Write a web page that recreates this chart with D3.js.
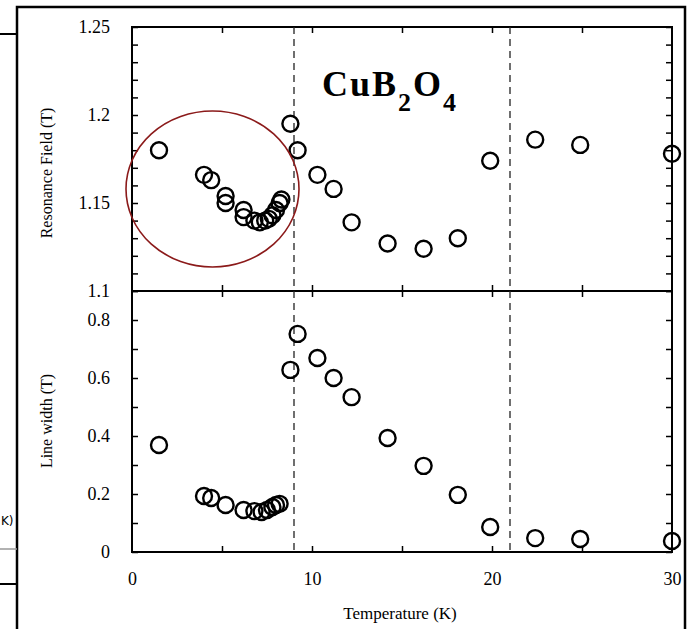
<!DOCTYPE html>
<html>
<head>
<meta charset="utf-8">
<script src="https://cdn.jsdelivr.net/npm/d3@7"></script>
<style>
  body { margin: 0; background: #fff; }
  svg { display: block; font-family: "Liberation Serif", "Times New Roman", serif; }
</style>
</head>
<body>
<svg id="chart"></svg>
<script>
const width = 690;
const height = 629;

// resonance field panel
const tField = [1.5, 4.0, 4.4, 5.2, 5.2, 6.2, 6.2, 6.8, 7.1, 7.4, 7.6, 7.8, 8.0, 8.2, 8.3,
  8.8, 9.2, 10.3, 11.2, 12.2, 14.2, 16.2, 18.1, 19.9, 22.4, 24.9, 30.0];
const field = [1.180, 1.166, 1.163, 1.154, 1.150, 1.146, 1.142, 1.140, 1.139, 1.140, 1.141, 1.143, 1.146, 1.150, 1.152,
  1.195, 1.180, 1.166, 1.158, 1.139, 1.127, 1.124, 1.130, 1.174, 1.186, 1.183, 1.178];

// line width panel
const tWidth = [1.5, 4.0, 4.4, 5.2, 6.2, 6.8, 7.2, 7.5, 7.8, 8.0, 8.2,
  8.8, 9.2, 10.3, 11.2, 12.2, 14.2, 16.2, 18.1, 19.9, 22.4, 24.9, 30.0];
const lineWidth = [0.369, 0.193, 0.186, 0.162, 0.145, 0.141, 0.138, 0.145, 0.155, 0.162, 0.166,
  0.628, 0.752, 0.669, 0.600, 0.534, 0.393, 0.297, 0.197, 0.086, 0.048, 0.045, 0.038];

const transitions = [9, 21];
const xLabels = [0, 10, 20, 30];
const xTicks = [5, 10, 15, 20, 25];
const topLabels = [1.1, 1.15, 1.2, 1.25];
const botLabels = [0, 0.2, 0.4, 0.6, 0.8];

const svg = d3.select('#chart').attr('width', width).attr('height', height);

const x = d3.scaleLinear().domain([0, 30]).range([132, 672]);
const yTop = d3.scaleLinear().domain([1.1, 1.25]).range([291, 27]);
const yBot = d3.scaleLinear().domain([0, 0.9]).range([552, 291]);

// outer frame and bits of the neighbouring figure
svg.append('rect')
  .attr('x', 17).attr('y', 7).attr('width', 668).attr('height', 650)
  .attr('fill', 'none').attr('stroke', '#000').attr('stroke-width', 2.5);
svg.append('line').attr('x1', 0).attr('x2', 17).attr('y1', 34).attr('y2', 34)
  .attr('stroke', '#000').attr('stroke-width', 2);
svg.append('line').attr('x1', 0).attr('x2', 17).attr('y1', 549).attr('y2', 549)
  .attr('stroke', '#999').attr('stroke-width', 1.5);
svg.append('line').attr('x1', 0).attr('x2', 17).attr('y1', 584).attr('y2', 584)
  .attr('stroke', '#000').attr('stroke-width', 2);
svg.append('text').attr('x', 1).attr('y', 525)
  .style('font-family', 'DejaVu Sans, sans-serif').style('font-size', '12px').text('K)');

const tickStyle = g => {
  g.select('.domain').remove();
  g.selectAll('line').attr('stroke', '#000').attr('stroke-width', 1.5);
};
const labelStyle = (g, size) => {
  g.select('.domain').remove();
  g.selectAll('text').attr('fill', '#000').style('font-size', size)
    .style('font-family', '"Liberation Serif", "Times New Roman", serif');
};

// minor ticks, pointing inward
svg.append('g').attr('transform', 'translate(132,0)')
  .call(d3.axisLeft(yTop).ticks(15).tickSize(-6).tickFormat('')).call(tickStyle);
svg.append('g').attr('transform', 'translate(672,0)')
  .call(d3.axisRight(yTop).ticks(15).tickSize(-6).tickFormat('')).call(tickStyle);
svg.append('g').attr('transform', 'translate(132,0)')
  .call(d3.axisLeft(yBot).ticks(9).tickSize(-6).tickFormat('')).call(tickStyle);
svg.append('g').attr('transform', 'translate(672,0)')
  .call(d3.axisRight(yBot).ticks(9).tickSize(-6).tickFormat('')).call(tickStyle);
svg.append('g').attr('transform', 'translate(0,27)')
  .call(d3.axisTop(x).tickValues(xTicks).tickSize(-6).tickFormat('')).call(tickStyle);
svg.append('g').attr('transform', 'translate(0,552)')
  .call(d3.axisBottom(x).tickValues(xTicks).tickSize(-6).tickFormat('')).call(tickStyle);
svg.append('g').attr('transform', 'translate(0,297)')
  .call(d3.axisTop(x).tickValues(xTicks).tickSize(12).tickFormat('')).call(tickStyle);

// tick labels
svg.append('g').attr('transform', 'translate(132,0)')
  .call(d3.axisLeft(yTop).tickValues(topLabels).tickSize(0).tickPadding(22).tickFormat(d3.format('')))
  .call(g => labelStyle(g, '18px'));
svg.append('g').attr('transform', 'translate(132,0)')
  .call(d3.axisLeft(yBot).tickValues(botLabels).tickSize(0).tickPadding(22).tickFormat(d3.format('')))
  .call(g => labelStyle(g, '18px'));
svg.append('g').attr('transform', 'translate(0,552)')
  .call(d3.axisBottom(x).tickValues(xLabels).tickSize(0).tickPadding(20))
  .call(g => labelStyle(g, '18px'));

// panel frames
svg.append('rect').attr('x', x(0)).attr('y', yTop(1.25))
  .attr('width', x(30) - x(0)).attr('height', yBot(0) - yTop(1.25))
  .attr('fill', 'none').attr('stroke', '#000').attr('stroke-width', 2);
svg.append('line').attr('x1', x(0)).attr('x2', x(30)).attr('y1', yTop(1.1)).attr('y2', yTop(1.1))
  .attr('stroke', '#000').attr('stroke-width', 2);

// transition temperatures
svg.selectAll('.tc').data(transitions).enter().append('line')
  .attr('class', 'tc')
  .attr('x1', d => x(d)).attr('x2', d => x(d))
  .attr('y1', yTop(1.25)).attr('y2', yBot(0))
  .attr('stroke', '#222').attr('stroke-width', 1.3).attr('stroke-dasharray', '7,5');

// axis titles
svg.append('text').attr('transform', 'translate(52,173) rotate(-90)')
  .attr('text-anchor', 'middle').style('font-size', '16px').text('Resonance Field (T)');
svg.append('text').attr('transform', 'translate(52,421) rotate(-90)')
  .attr('text-anchor', 'middle').style('font-size', '16px').text('Line width (T)');
svg.append('text').attr('x', 400).attr('y', 619)
  .attr('text-anchor', 'middle').style('font-size', '17px').text('Temperature (K)');

// compound label
const title = svg.append('text').attr('x', 322).attr('y', 96)
  .style('font-size', '36px').style('font-weight', 'bold').style('letter-spacing', '2px');
title.append('tspan').text('CuB');
title.append('tspan').attr('dy', 15).style('font-size', '26px').text('2');
title.append('tspan').attr('dy', -15).text('O');
title.append('tspan').attr('dy', 15).style('font-size', '26px').text('4');

// data
svg.append('g').selectAll('circle')
  .data(tField.map((t, i) => [t, field[i]]))
  .enter().append('circle')
  .attr('cx', d => x(d[0])).attr('cy', d => yTop(d[1])).attr('r', 8)
  .attr('fill', 'none').attr('stroke', '#000').attr('stroke-width', 2.4);

svg.append('g').selectAll('circle')
  .data(tWidth.map((t, i) => [t, lineWidth[i]]))
  .enter().append('circle')
  .attr('cx', d => x(d[0])).attr('cy', d => yBot(d[1])).attr('r', 8)
  .attr('fill', 'none').attr('stroke', '#000').attr('stroke-width', 2.4);

// highlighted region
svg.append('ellipse')
  .attr('cx', 212.5).attr('cy', 189).attr('rx', 86.5).attr('ry', 78)
  .attr('fill', 'none').attr('stroke', '#8b1a1a').attr('stroke-width', 1.6);
</script>
</body>
</html>
